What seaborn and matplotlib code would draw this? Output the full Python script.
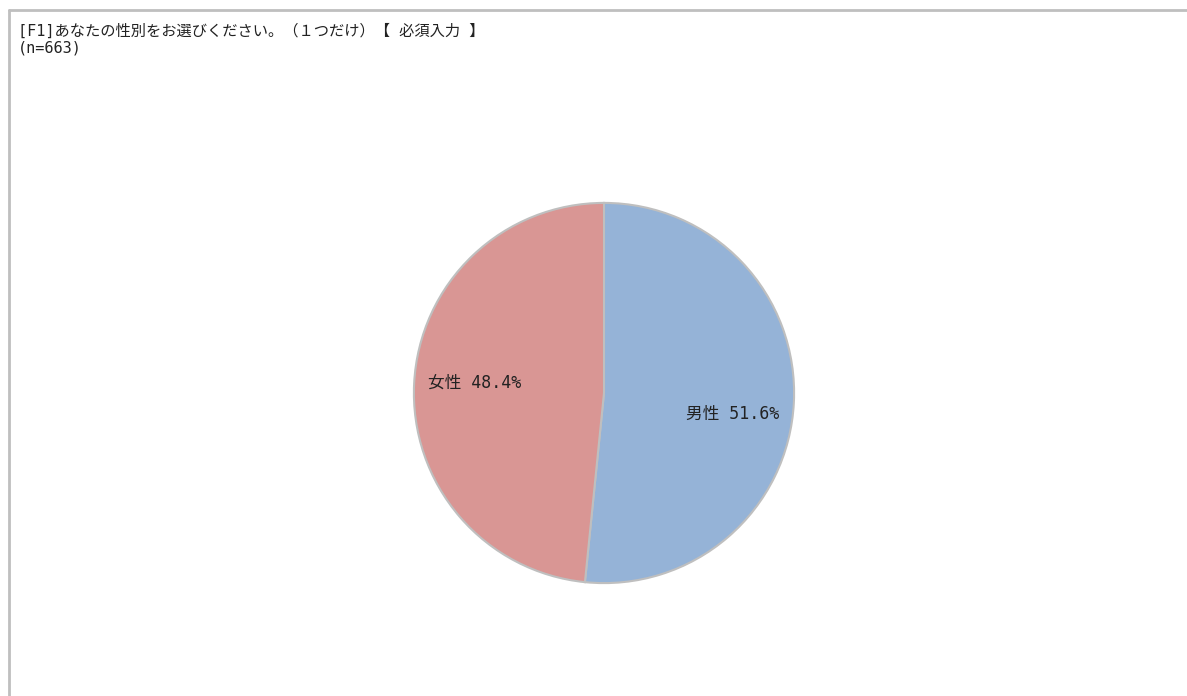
import matplotlib
matplotlib.use("Agg")
import matplotlib.pyplot as plt
import matplotlib.transforms as mtransforms
import seaborn as sns
from matplotlib.lines import Line2D

sns.set_theme(style="white")
FAM = ['DejaVu Sans Mono', 'Noto Sans CJK JP']
plt.rcParams['font.family'] = FAM

categories = ["男性", "女性"]
values = [51.6, 48.4]
colors = ["#95B3D7", "#D99694"]
title_line1 = "[F1]あなたの性別をお選びください。（１つだけ）【 必須入力 】"
title_line2 = "(n=663)"

W, H = 1187, 696
fig = plt.figure(figsize=(W / 100, H / 100), dpi=100)
fig.patch.set_facecolor("white")

# frame lines (top and left)
fig.add_artist(Line2D([8.5 / W, 1], [1 - 9.5 / H, 1 - 9.5 / H], color="#BFBFBF", lw=2, transform=fig.transFigure))
fig.add_artist(Line2D([8.5 / W, 8.5 / W], [0, 1 - 9.5 / H], color="#BFBFBF", lw=2, transform=fig.transFigure))

cx, cy, r = 604, 393, 192
ax = fig.add_axes([(cx - r) / W, (H - cy - r) / H, 2 * r / W, 2 * r / H])
labels = [f"{c} {v:.1f}%" for c, v in zip(categories, values)]
wedges, texts = ax.pie(values, labels=labels, colors=colors, startangle=90, counterclock=False,
                       labeldistance=0.68, radius=1,
                       wedgeprops=dict(edgecolor="#BFBFBF", linewidth=1.5),
                       textprops=dict(fontsize=12, color="#222222"))
nudges = [-14, 4]  # pixel nudges for label placement
for t, dy in zip(texts, nudges):
    t.set_ha("center")
    t.set_va("center")
    t.set_transform(t.get_transform() + mtransforms.Affine2D().translate(0, dy))
ax.set_xlim(-1.01, 1.01)
ax.set_ylim(-1.01, 1.01)
ax.set_aspect("equal")
ax.axis("off")

fig.text(18 / W, 1 - 31 / H, title_line1, fontsize=11, color="#222222", va="center", ha="left")
fig.text(18 / W, 1 - 48 / H, title_line2, fontsize=11, color="#222222", va="center", ha="left")

fig.savefig("out.png", dpi=100, facecolor="white")
